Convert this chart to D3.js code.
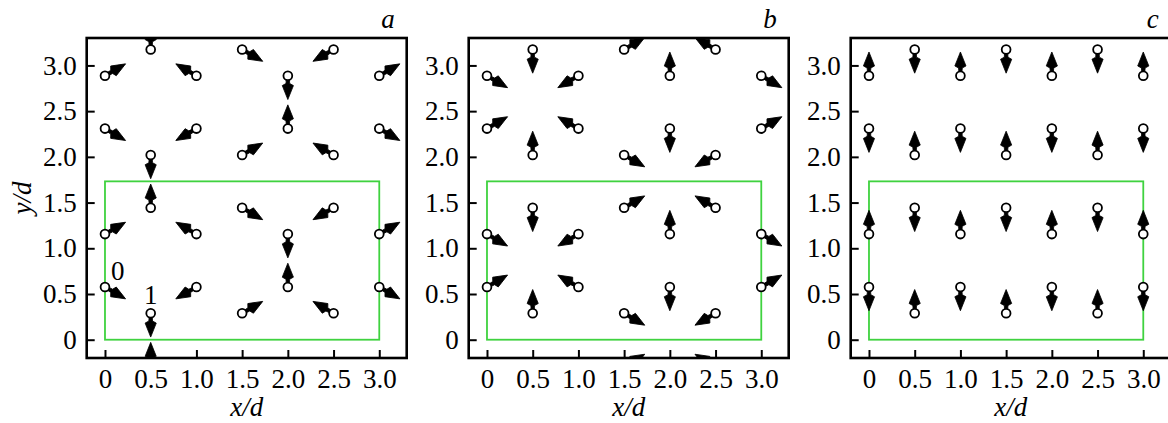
<!DOCTYPE html>
<html>
<head>
<meta charset="utf-8">
<script src="https://cdn.jsdelivr.net/npm/d3@7/dist/d3.min.js"></script>
<style>
  body { margin: 0; background: #fff; }
  svg { display: block; }
</style>
</head>
<body>
<svg id="chart" width="1168" height="423"></svg>
<script>

// lattice sites (in units of d), honeycomb, listed column by column
var siteX = [0, 0, 0, 0,
             0.5, 0.5, 0.5, 0.5, 0.5,
             1.0, 1.0, 1.0, 1.0,
             1.5, 1.5, 1.5, 1.5, 1.5,
             2.0, 2.0, 2.0, 2.0,
             2.5, 2.5, 2.5, 2.5, 2.5,
             3.0, 3.0, 3.0, 3.0];
var siteY = [0.577, 1.155, 2.309, 2.887,
             -0.289, 0.289, 1.443, 2.021, 3.175,
             0.577, 1.155, 2.309, 2.887,
             -0.289, 0.289, 1.443, 2.021, 3.175,
             0.577, 1.155, 2.309, 2.887,
             -0.289, 0.289, 1.443, 2.021, 3.175,
             0.577, 1.155, 2.309, 2.887];

// dipole direction for each site, degrees counter-clockwise from +x
var anglesA = [-30, 30, -30, 30,
               90, -90, 90, -90, 90,
               210, 150, 210, 150,
               -30, 30, -30, 30, -30,
               90, -90, 90, -90,
               210, 150, 210, 150, 210,
               -30, 30, -30, 30];
var anglesB = [30, -30, 30, -30,
               -90, 90, -90, 90, -90,
               150, 210, 150, 210,
               30, -30, 30, -30, 30,
               -90, 90, -90, 90,
               150, 210, 150, 210, 150,
               30, -30, 30, -30];
var anglesC = [-90, 90, -90, 90,
               -90, 90, -90, 90, -90,
               -90, 90, -90, 90,
               -90, 90, -90, 90, -90,
               -90, 90, -90, 90,
               -90, 90, -90, 90, -90,
               -90, 90, -90, 90];

var panelNames = ["a", "b", "c"];
var panelAngles = [anglesA, anglesB, anglesC];

var tickValues = [0, 0.5, 1.0, 1.5, 2.0, 2.5, 3.0];
var tickLabels = ["0", "0.5", "1.0", "1.5", "2.0", "2.5", "3.0"];

// unit cell drawn in green
var cellX = [0, 3.0];
var cellY = [0, 1.732];

// numbered sites in panel a
var noteText = ["0", "1"];
var noteX = [0.14, 0.5];
var noteY = [0.65, 0.39];

var arrowLen = 0.26;   // in d

(function() {
  var serif = "'Liberation Serif', 'Times New Roman', Times, serif";
  var svg = d3.select("#chart").style("font-family", serif);
  var size = 320, plotTop = 38, left0 = 86.7, gap = 382;
  var fontSize = 27;

  var x = d3.scaleLinear().domain([-0.2, 3.3]).range([0, size]);
  var y = d3.scaleLinear().domain([-0.2, 3.3]).range([size, 0]);

  svg.append("defs").append("clipPath").attr("id", "frame-clip")
    .append("rect").attr("x", 0).attr("y", 0).attr("width", size).attr("height", size);

  // dart shaped arrow along +x, starting at the site centre
  function arrowPath(len) {
    var k = len / 23;
    var pts = [[3.5, -1.5], [7.5, -1.8], [9.5, -5.4], [23, 0], [9.5, 5.4], [7.5, 1.8], [3.5, 1.5]];
    return "M" + pts.map(function(p) { return (p[0] * k) + "," + (p[1] * k); }).join("L") + "Z";
  }

  var arrowD = arrowPath(x(arrowLen) - x(0));

  function label(sel, size, italic) {
    return sel.style("font-family", serif)
      .style("font-size", size + "px")
      .style("font-style", italic ? "italic" : "normal")
      .style("fill", "#000");
  }

  panelNames.forEach(function(name, pi) {
    var angles = panelAngles[pi];
    var g = svg.append("g").attr("transform", "translate(" + (left0 + pi * gap) + "," + plotTop + ")");

    var plot = g.append("g").attr("clip-path", "url(#frame-clip)");

    plot.append("rect")
      .attr("x", x(cellX[0]))
      .attr("y", y(cellY[1]))
      .attr("width", x(cellX[1]) - x(cellX[0]))
      .attr("height", y(cellY[0]) - y(cellY[1]))
      .style("fill", "none")
      .style("stroke", "#3fd23f")
      .style("stroke-width", 1.8);

    var sites = siteX.map(function(sx, i) { return {x: sx, y: siteY[i], a: angles[i]}; });

    plot.selectAll(".arrow").data(sites).enter().append("path")
      .attr("class", "arrow")
      .attr("d", arrowD)
      .attr("transform", function(d) {
        return "translate(" + x(d.x) + "," + y(d.y) + ") rotate(" + (-d.a) + ")";
      })
      .style("fill", "#000")
      .style("stroke", "#000")
      .style("stroke-width", 0.8)
      .style("stroke-linejoin", "round");

    plot.selectAll(".site").data(sites).enter().append("circle")
      .attr("class", "site")
      .attr("cx", function(d) { return x(d.x); })
      .attr("cy", function(d) { return y(d.y); })
      .attr("r", 4.4)
      .style("fill", "#fff")
      .style("stroke", "#000")
      .style("stroke-width", 1.8);

    if (pi == 0) {
      plot.selectAll(".note").data(noteText).enter().append("text")
        .attr("class", "note")
        .attr("x", function(d, i) { return x(noteX[i]); })
        .attr("y", function(d, i) { return y(noteY[i]); })
        .attr("text-anchor", "middle")
        .call(label, fontSize, false)
        .text(function(d) { return d; });
    }

    var xAxis = d3.axisBottom(x).tickValues(tickValues)
      .tickFormat(function(d, i) { return tickLabels[i]; })
      .tickSize(-8).tickPadding(11);
    var yAxis = d3.axisLeft(y).tickValues(tickValues)
      .tickFormat(function(d, i) { return tickLabels[i]; })
      .tickSize(-8).tickPadding(10);

    var gx = g.append("g").attr("transform", "translate(0," + size + ")").call(xAxis);
    var gy = g.append("g").call(yAxis);
    [gx, gy].forEach(function(ax) {
      ax.attr("font-family", null).attr("font-size", null);
      ax.select(".domain").remove();
      ax.selectAll(".tick line").style("stroke", "#000").style("stroke-width", 2);
      ax.selectAll(".tick text").call(label, fontSize, false);
    });

    // frame
    g.append("rect")
      .attr("x", 0).attr("y", 0).attr("width", size).attr("height", size)
      .style("fill", "none")
      .style("stroke", "#000")
      .style("stroke-width", 2.6);

    g.append("text")
      .attr("x", size - 12).attr("y", -10)
      .attr("text-anchor", "end")
      .call(label, fontSize, true)
      .text(name);

    g.append("text")
      .attr("x", size / 2).attr("y", 378)
      .attr("text-anchor", "middle")
      .call(label, fontSize, true)
      .text("x/d");

    if (pi == 0) {
      g.append("text")
        .attr("transform", "translate(-56," + (size / 2) + ") rotate(-90)")
        .attr("text-anchor", "middle")
        .call(label, fontSize, true)
        .text("y/d");
    }
  });
})();

</script>
</body>
</html>
